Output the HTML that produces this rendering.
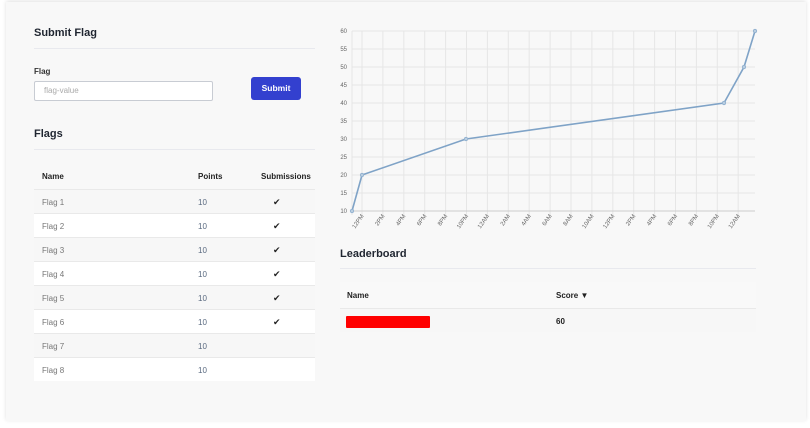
<!DOCTYPE html>
<html><head><meta charset="utf-8"><style>
body{margin:0;width:810px;height:428px;background:#fff;font-family:"Liberation Sans",sans-serif;position:relative;overflow:hidden}
.bg{position:absolute;left:6px;top:2px;width:800px;height:419px;background:#f8f8f8;box-shadow:0 -1px 4px rgba(0,0,0,.12)}
.a{position:absolute}
h{position:absolute;font-weight:bold;color:#1f2530}
.hr{position:absolute;height:1px;background:#e8e9ee}
.row{position:absolute;left:34px;width:281px;height:23px;border-bottom:1px solid #e9e9e9;font-size:8px;color:#777}
.row span{position:absolute;top:8px}
.row span.p{color:#5a6a80}
.ck{position:absolute;left:239px;top:7px;font-size:9px;color:#222}
</style></head><body>
<div class="bg"></div>
<h style="left:34px;top:27px;font-size:11px">Submit Flag</h>
<div class="hr" style="left:34px;top:48px;width:281px"></div>
<div class="a" style="left:34px;top:67px;font-size:8px;font-weight:bold;color:#333">Flag</div>
<div class="a" style="left:34px;top:81px;width:177px;height:18px;border:1px solid #c8ccd3;border-radius:2px;background:#fff;font-size:8px;color:#aaa;line-height:18px;text-indent:9px">flag-value</div>
<div class="a" style="left:251px;top:77px;width:50px;height:23px;background:#3340cf;border-radius:3px;color:#fff;font-size:8.5px;font-weight:bold;text-align:center;line-height:23px">Submit</div>
<h style="left:34px;top:128px;font-size:11px">Flags</h>
<div class="hr" style="left:34px;top:149px;width:281px"></div>
<div class="row" style="top:162px;height:27px;background:#f8f8f8;font-weight:bold;color:#222"><span style="left:8px;top:10px">Name</span><span style="left:164px;top:10px">Points</span><span style="left:227px;top:10px">Submissions</span></div>
<div class="row" style="top:190px;background:#f7f7f7"><span style="left:8px">Flag 1</span><span class="p" style="left:164px">10</span><div class="ck">✔</div></div>
<div class="row" style="top:214px;background:#fff"><span style="left:8px">Flag 2</span><span class="p" style="left:164px">10</span><div class="ck">✔</div></div>
<div class="row" style="top:238px;background:#f7f7f7"><span style="left:8px">Flag 3</span><span class="p" style="left:164px">10</span><div class="ck">✔</div></div>
<div class="row" style="top:262px;background:#fff"><span style="left:8px">Flag 4</span><span class="p" style="left:164px">10</span><div class="ck">✔</div></div>
<div class="row" style="top:286px;background:#f7f7f7"><span style="left:8px">Flag 5</span><span class="p" style="left:164px">10</span><div class="ck">✔</div></div>
<div class="row" style="top:310px;background:#fff"><span style="left:8px">Flag 6</span><span class="p" style="left:164px">10</span><div class="ck">✔</div></div>
<div class="row" style="top:334px;background:#f7f7f7"><span style="left:8px">Flag 7</span><span class="p" style="left:164px">10</span></div>
<div class="row" style="top:358px;background:#fff;border:none"><span style="left:8px">Flag 8</span><span class="p" style="left:164px">10</span></div>

<svg class="a" style="left:0;top:0" width="810" height="250" font-family="Liberation Sans" font-size="6" fill="#666">
<g stroke="#e6e6e6" stroke-width="1">
<line x1="352" y1="31" x2="755" y2="31"/><line x1="352" y1="49" x2="755" y2="49"/><line x1="352" y1="67" x2="755" y2="67"/><line x1="352" y1="85" x2="755" y2="85"/><line x1="352" y1="103" x2="755" y2="103"/><line x1="352" y1="121" x2="755" y2="121"/><line x1="352" y1="139" x2="755" y2="139"/><line x1="352" y1="157" x2="755" y2="157"/><line x1="352" y1="175" x2="755" y2="175"/><line x1="352" y1="193" x2="755" y2="193"/>
<line x1="352" y1="31" x2="352" y2="215"/>
</g>
<g id="v" stroke="#e6e6e6"></g>
<line x1="352" y1="211" x2="755" y2="211" stroke="#ccc"/>
<g text-anchor="end">
<text x="347" y="33">60</text><text x="347" y="51">55</text><text x="347" y="69">50</text><text x="347" y="87">45</text><text x="347" y="105">40</text><text x="347" y="123">35</text><text x="347" y="141">30</text><text x="347" y="159">25</text><text x="347" y="177">20</text><text x="347" y="195">15</text><text x="347" y="213">10</text>
</g>
<g id="xl" text-anchor="end"></g>
<polyline points="352,211 362,175 466,139 724,103 744,67 755,31" fill="none" stroke="#7fa3c7" stroke-width="1.6"/>
<g fill="#b8cde0" stroke="#7fa3c7" stroke-width=".6"><circle cx="352" cy="211" r="1.8"/><circle cx="362" cy="175" r="1.8"/><circle cx="466" cy="139" r="1.8"/><circle cx="724" cy="103" r="1.8"/><circle cx="744" cy="67" r="1.8"/><circle cx="755" cy="31" r="1.8"/></g>
</svg>
<script>
var labs=["12PM","2PM","4PM","6PM","8PM","10PM","12AM","2AM","4AM","6AM","8AM","10AM","12PM","2PM","4PM","6PM","8PM","10PM","12AM"];
var v=document.getElementById('v'),xl=document.getElementById('xl'),ns="http://www.w3.org/2000/svg";
labs.forEach(function(l,i){var x=362+i*20.9;
var ln=document.createElementNS(ns,'line');ln.setAttribute('x1',x);ln.setAttribute('x2',x);ln.setAttribute('y1',31);ln.setAttribute('y2',215);v.appendChild(ln);
var t=document.createElementNS(ns,'text');t.setAttribute('transform','translate('+(x+2)+',216) rotate(-55)');t.textContent=l;xl.appendChild(t);});
</script>

<h style="left:340px;top:248px;font-size:11px">Leaderboard</h>
<div class="hr" style="left:340px;top:268px;width:416px"></div>
<div class="a" style="left:340px;top:282px;width:416px;height:26px;background:#f9f9f9;border-bottom:1px solid #e9e9e9;font-size:8px;font-weight:bold;color:#222">
<span class="a" style="left:7px;top:9px">Name</span><span class="a" style="left:216px;top:9px">Score ▼</span></div>
<div class="a" style="left:340px;top:309px;width:416px;height:23px;background:#f7f7f7;font-size:8px;font-weight:bold;color:#222">
<div class="a" style="left:6px;top:7px;width:84px;height:12px;background:#f00;border-radius:1px"></div>
<span class="a" style="left:216px;top:8px">60</span></div>
</body></html>
